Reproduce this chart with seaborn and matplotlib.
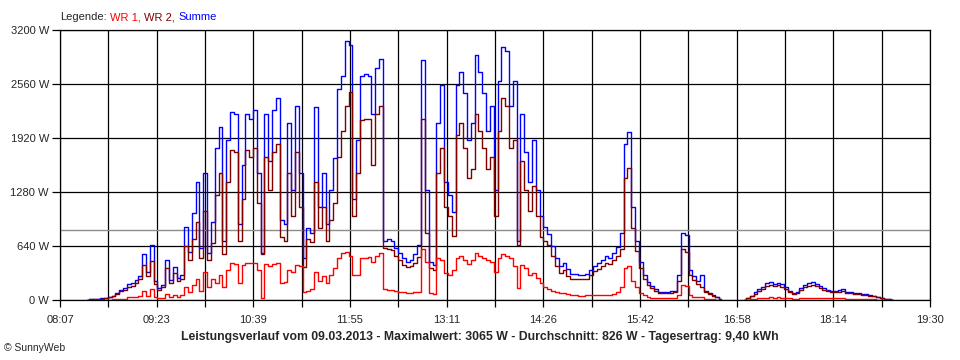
import numpy as np
import pandas as pd
import matplotlib
matplotlib.use('Agg')
import matplotlib.pyplot as plt
import seaborn as sns

# Leistung in W, ein Wert alle 3 Minuten ab 08:28 (nan = keine Einspeisung)
start = '2013-03-09 08:28'
nan = np.nan

summe = [5, 8, 10, 12, 20, 25, 35, 50, 80, 120, 140,
         185, 200, 237, 290, 540, 335, 650, 230, 140, 180,
         480, 240, 390, 260, 300, 870, 570, 1030, 1400, 620, 1500,
         560, 930, 1800, 2050, 700, 1900, 2230, 2200, 900, 1600,
         2200, 2150, 2250, 1500, 560, 2200, 1650, 2250, 2390, 950,
         900, 2100, 1300, 2300, 1500, 500, 850, 800, 2290, 1100,
         1500, 900, 1300, 1680, 2500, 2660, 3065, 3020, 1200, 1900,
         2650, 2680, 2650, 2200, 2750, 2860, 700, 720, 700, 620,
         560, 500, 450, 480, 540, 650, 2840, 1300, 450, 420,
         2100, 2550, 1400, 1250, 1040, 2550, 2700, 2450, 1900, 2100,
         2900, 2700, 2450, 2000, 2300, 1300, 2600, 3000, 2950, 2300,
         2600, 700, 2200, 1750, 1400, 1900, 1300, 1000, 860, 780,
         640, 500, 400, 440, 370, 310, 310, 300, 300, 310,
         360, 400, 440, 480, 520, 500, 560, 630, 800, 1850,
         1990, 1100, 700, 450, 300, 210, 170, 130, 100, 100,
         100, 105, 110, 300, 790, 770, 360, 280, 220, 300,
         110, 80, 60, 35, 12, nan, nan, nan, nan, nan,
         5, 25, 50, 90, 130, 160, 205, 210, 195, 205,
         185, 150, 110, 85, 100, 140, 175, 200, 210, 195,
         170, 140, 120, 110, 108, 115, 130, 95, 90, 85,
         80, 75, 70, 60, 50, 35, 25, 15, 10, 5]

wr2 = [5, 7, 9, 11, 17, 21, 30, 43, 70, 105, 122,
       155, 165, 200, 250, 420, 290, 460, 195, 118, 152,
       380, 205, 320, 222, 250, 640, 470, 720, 930, 500, 1050,
       470, 680, 1250, 1500, 550, 1400, 1780, 1760, 700, 1200,
       1780, 1700, 1800, 1150, 540, 1700, 1300, 1750, 1850, 750,
       700, 1500, 1000, 1750, 1100, 390, 720, 690, 1400, 850,
       1100, 700, 950, 1150, 1700, 2000, 2300, 2460, 1000, 1500,
       2130, 2140, 2150, 1600, 2200, 2300, 620, 600, 590, 520,
       470, 420, 390, 400, 440, 510, 2150, 800, 380, 350,
       1500, 1800, 1100, 1000, 760, 1950, 2100, 1800, 1450, 1550,
       2200, 2000, 1800, 1550, 1700, 1000, 2000, 2400, 2300, 1800,
       1900, 650, 1650, 1300, 1050, 1350, 1000, 750, 700, 650,
       520, 400, 320, 360, 290, 250, 250, 245, 245, 250,
       300, 340, 370, 400, 440, 430, 480, 520, 600, 1450,
       1560, 850, 580, 380, 250, 180, 145, 110, 85, 85,
       85, 88, 90, 230, 600, 570, 300, 240, 190, 160,
       95, 70, 52, 30, 10, nan, nan, nan, nan, nan,
       4, 20, 42, 75, 110, 135, 170, 180, 165, 175,
       160, 130, 95, 70, 85, 120, 150, 170, 180, 170,
       145, 120, 105, 95, 92, 100, 110, 85, 80, 75,
       70, 65, 60, 52, 44, 30, 22, 12, 8, 4]

wr1 = [0, 1, 1, 2, 3, 4, 5, 6, 8, 10, 12,
       30, 35, 38, 45, 110, 50, 130, 40, 25, 28,
       70, 35, 60, 40, 55, 150, 90, 180, 250, 110, 330,
       150, 250, 200, 300, 150, 350, 440, 430, 200, 420,
       440, 440, 440, 350, 20, 430, 400, 430, 440, 200,
       210, 350, 330, 420, 400, 100, 110, 130, 330, 220,
       280, 200, 300, 380, 500, 560, 570, 520, 300, 300,
       500, 500, 510, 450, 520, 560, 130, 120, 115, 110,
       100, 90, 80, 85, 95, 100, 600, 450, 80, 70,
       500, 480, 320, 300, 350, 500, 520, 480, 430, 480,
       560, 520, 500, 470, 450, 330, 500, 540, 520, 500,
       400, 140, 420, 380, 300, 320, 260, 200, 150, 130,
       110, 100, 80, 80, 70, 55, 55, 50, 50, 55,
       55, 60, 60, 65, 65, 65, 70, 100, 150, 380,
       400, 220, 150, 80, 60, 30, 22, 20, 18, 18,
       18, 18, 20, 60, 180, 170, 60, 40, 35, 40,
       15, 10, 8, 5, 2, nan, nan, nan, nan, nan,
       1, 5, 8, 12, 18, 22, 28, 30, 28, 30,
       28, 22, 18, 12, 15, 20, 22, 25, 25, 25,
       22, 20, 18, 18, 18, 18, 18, 15, 12, 12,
       10, 10, 10, 8, 8, 5, 4, 2, 1, 0]

x_labels = ['08:07', '09:23', '10:39', '11:55', '13:11',
            '14:26', '15:42', '16:58', '18:14', '19:30']
y_ticks = [0, 640, 1280, 1920, 2560, 3200]
durchschnitt = 826
titel = ('Leistungsverlauf vom 09.03.2013 - Maximalwert: 3065 W - '
         'Durchschnitt: 826 W - Tagesertrag: 9,40 kWh')

sns.set_theme(style='white')
plt.rcParams['font.family'] = ['Liberation Sans', 'DejaVu Sans']

zeit = pd.date_range(start, periods=len(summe), freq='3min')
df = pd.DataFrame({'t': zeit.hour * 60 + zeit.minute,
                   'Summe': summe, 'WR 2': wr2, 'WR 1': wr1})
# Luecken trennen die Linie in Abschnitte
df['teil'] = np.isnan(df['Summe']).cumsum()
lang = df.melt(id_vars=['t', 'teil'], var_name='serie', value_name='W').dropna()

fig = plt.figure(figsize=(9.6, 3.6), dpi=100)
ax = fig.add_axes([60 / 960, 1 - 300 / 360, 870 / 960, 270 / 360])

farben = {'Summe': '#0000ff', 'WR 2': '#800000', 'WR 1': '#ff0000'}
for serie, farbe in farben.items():
    sns.lineplot(data=lang[lang['serie'] == serie], x='t', y='W', units='teil',
                 estimator=None, color=farbe, lw=1.0, drawstyle='steps-mid',
                 legend=False, ax=ax, zorder=3)

ax.axhline(durchschnitt, color='#8c8c8c', lw=1.0, zorder=2)

x0, x1 = 8 * 60 + 7, 19 * 60 + 30
ax.set_xlim(x0, x1)
ax.set_ylim(0, 3200)
ax.set_xticks(np.linspace(x0, x1, len(x_labels)))
ax.set_xticklabels(x_labels)
ax.set_xticks(np.linspace(x0, x1, 2 * len(x_labels) - 1), minor=True)
ax.set_yticks(y_ticks)
ax.set_yticklabels([f'{v} W' for v in y_ticks])
ax.grid(True, which='both', color='black', lw=0.9)
ax.set_axisbelow(True)
ax.set_xlabel('')
ax.set_ylabel('')
for s in ax.spines.values():
    s.set_color('black')
    s.set_linewidth(0.9)
ax.tick_params(axis='x', which='both', direction='out', length=5, width=0.9,
               color='black', labelsize=8, pad=6, bottom=True)
ax.tick_params(axis='y', direction='out', length=6, width=0.9,
               color='black', labelsize=8, pad=2, left=True)

# Legende als farbiger Text
t = fig.text(60 / 960, 1 - 17 / 360, 'Legende:', fontsize=8, va='center')
for txt, farbe in [('WR 1,', '#ff0000'), ('WR 2,', '#800000'), ('Summe', '#0000ff')]:
    t = ax.annotate(txt, xy=(1, 0), xycoords=t, xytext=(2.5, 0),
                    textcoords='offset points', va='bottom', fontsize=8, color=farbe)

fig.text(480 / 960, 1 - 337 / 360, titel, ha='center', va='center',
         fontsize=8.8, fontweight='bold')
fig.text(4 / 960, 1 - 348 / 360, '© SunnyWeb', fontsize=7.5, va='center')

fig.savefig('out.png', dpi=100)
